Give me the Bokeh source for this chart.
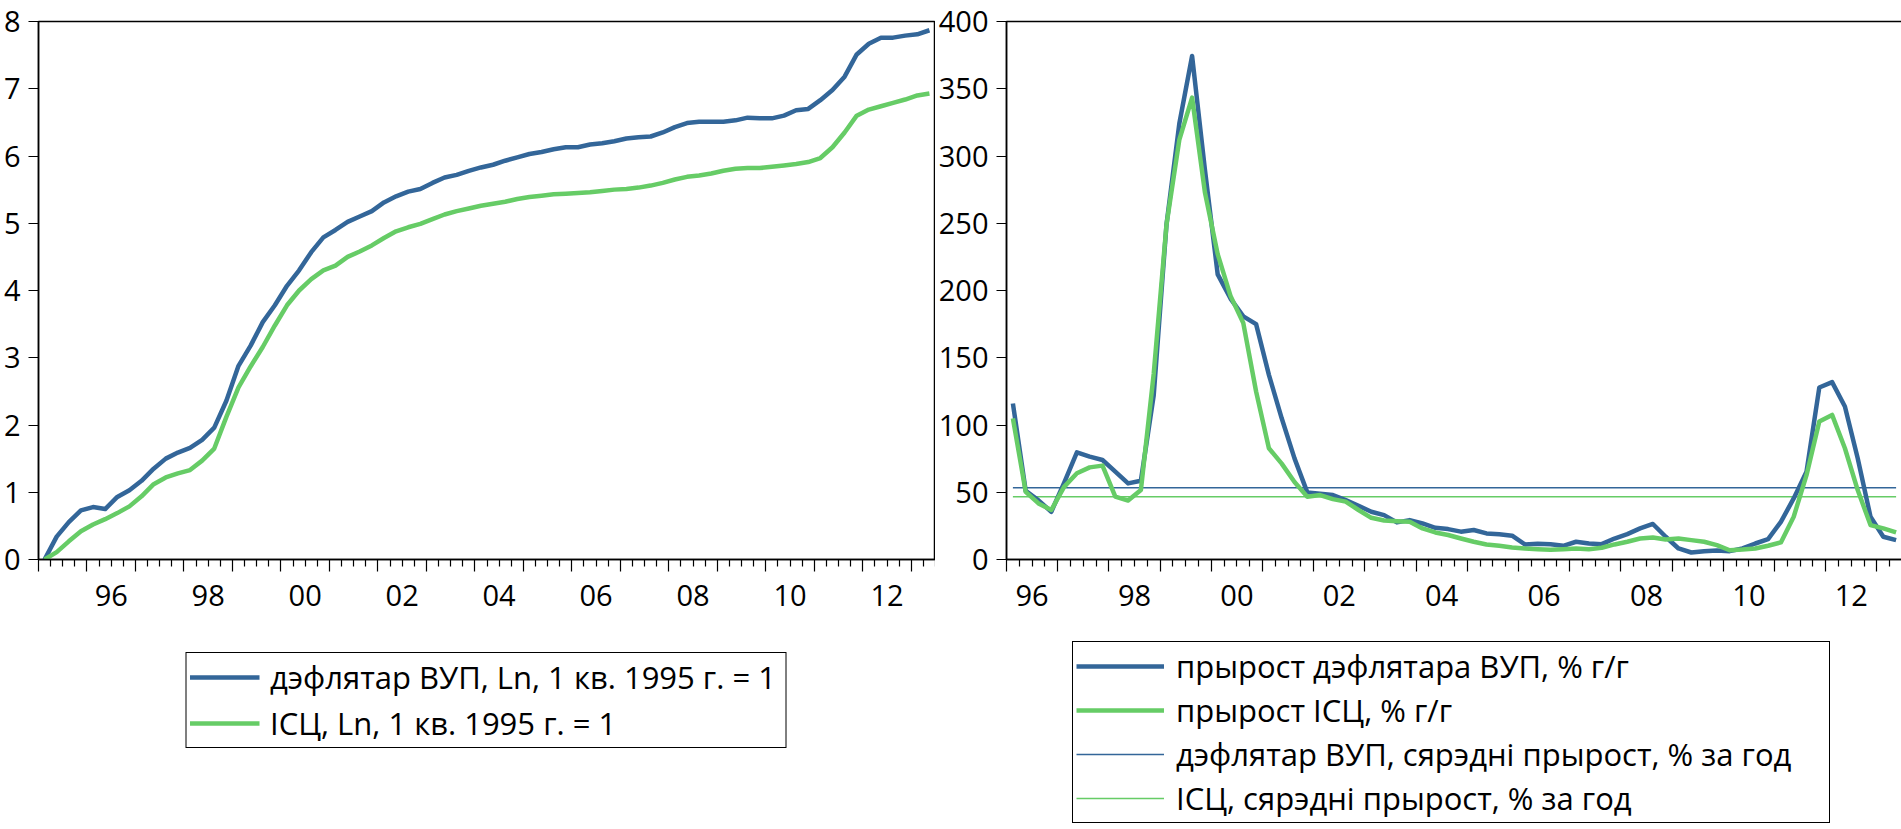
from bokeh.plotting import figure
from bokeh.models import Range1d, LinearAxis, FixedTicker, Legend, LegendItem, CustomLabelingPolicy
from bokeh.layouts import row, column
from bokeh.embed import file_html
from bokeh.resources import INLINE

FONT = "Open Sans"
BLUE = "#336699"
GREEN = "#66CC66"
TICK_FS = "29px"
LEG_FS = "31px"
FH = 538
LW = 4.5
CHART_BOTTOM = 60

# ---------------- data ----------------
left_start_year = 1995   # 1995Q1 .. 2013Q2
right_start_year = 1996  # 1996Q1 .. 2013Q2

ln_deflator = [0.00, 0.34, 0.555, 0.73, 0.78, 0.75, 0.93, 1.03, 1.17, 1.35, 1.50, 1.59, 1.66, 1.78,
               1.96, 2.36, 2.88, 3.18, 3.53, 3.78, 4.07,
               4.30, 4.57, 4.79, 4.90, 5.02, 5.10, 5.18, 5.31, 5.40, 5.47, 5.51, 5.60, 5.68, 5.72,
               5.78, 5.83, 5.87,
               5.93, 5.98, 6.03, 6.06, 6.10, 6.13, 6.13, 6.17, 6.19, 6.22, 6.26, 6.28, 6.29, 6.35,
               6.43, 6.49, 6.51, 6.51, 6.51, 6.53, 6.57, 6.56, 6.56, 6.60, 6.68, 6.70, 6.83, 6.98,
               7.18, 7.51, 7.67, 7.76, 7.76, 7.79, 7.81, 7.87]
ln_cpi = [0.00, 0.11, 0.27, 0.42, 0.52, 0.60, 0.69, 0.79, 0.94, 1.12, 1.22, 1.28, 1.33, 1.47,
          1.65, 2.12, 2.56, 2.87, 3.16, 3.48, 3.78,
          4.00, 4.17, 4.30, 4.37, 4.50, 4.58, 4.67, 4.78, 4.88, 4.94, 4.99, 5.06, 5.13, 5.18,
          5.22, 5.26, 5.29,
          5.32, 5.36, 5.39, 5.41, 5.43, 5.44, 5.45, 5.46, 5.48, 5.50, 5.51, 5.53, 5.56, 5.60,
          5.65, 5.69, 5.71, 5.74, 5.78, 5.81, 5.82, 5.82, 5.84, 5.86, 5.88, 5.91, 5.97, 6.13,
          6.35, 6.60, 6.69, 6.74, 6.79, 6.84, 6.90, 6.93]

growth_deflator = [116, 51, 44, 35.5, 57, 79.7, 76.5, 74, 65.3, 56.6, 58.6, 122, 249, 324, 374.4,
                   290, 212, 194, 180.8, 175, 137.3, 105, 75.2, 49.9, 48.9, 47.9, 44.2, 40, 35.5,
                   33, 27.6,
                   29.3, 26.8, 23.6, 22.6, 20.7, 21.9, 19.4, 18.7, 17.7, 11.2, 11.7, 11.4, 10.2,
                   13.2, 11.9, 11.4, 15.6, 18.9, 23.1, 26.4, 16.9, 8.2, 5.2, 6.2, 6.7, 6.2, 8.2,
                   11.9, 15.1, 28.0, 45.4, 65.2, 127.9, 131.9, 113.8, 75.3, 31.8, 16.9, 14.4]
growth_cpi = [105, 50.3, 41.7, 36.8, 54, 64.1, 68.5, 69.8, 46.7, 43.8, 51.6, 138, 249, 312, 343.4,
              273, 227, 196, 175.8, 124.9, 82.7, 71.3, 57.6, 46.7, 47.9, 44.9, 43, 36.8, 31,
              29, 28.5,
              28.0, 23.1, 20.1, 18.2, 15.6, 13.2, 11.2, 10.2, 9.0, 8.2, 7.7, 7.2, 7.7, 8.2, 7.7,
              8.7, 11.2, 13.2, 15.6, 16.4, 14.9, 15.6, 14.4, 13.2, 10.7, 6.9, 7.4, 8.2, 10.2,
              12.7, 31.8, 62.7, 102.6, 107.5, 82.7, 51.6, 25.6, 23.1, 20.1]
mean_growth_deflator = 53.4
mean_growth_cpi = 46.7

left_y_ticks = [0, 1, 2, 3, 4, 5, 6, 7, 8]
right_y_ticks = [0, 50, 100, 150, 200, 250, 300, 350, 400]
label_years = [1996, 1998, 2000, 2002, 2004, 2006, 2008, 2010, 2012]

labels_left = ["дэфлятар ВУП, Ln, 1 кв. 1995 г. = 1", "ІСЦ, Ln, 1 кв. 1995 г. = 1"]
labels_right = ["прырост дэфлятара ВУП, % г/г", "прырост ІСЦ, % г/г",
                "дэфлятар ВУП, сярэдні прырост, % за год", "ІСЦ, сярэдні прырост, % за год"]


def quarter_centers(start_year, n):
    # centre of each quarter, in years
    return [start_year + i / 4 + 0.125 for i in range(n)]


NO_LABELS = CustomLabelingPolicy(code="""
for (const i of indices)
    indices.unset(i)
return indices
""")


def make_fig(x0, x1, y1, yticks, fw, mbl, mbr):
    p = figure(frame_width=fw, frame_height=FH, x_range=Range1d(x0, x1), y_range=Range1d(0, y1),
               output_backend="svg", toolbar_location=None, tools="",
               x_axis_location=None, y_axis_location="left",
               min_border_left=mbl, min_border_right=mbr, min_border_top=21,
               min_border_bottom=CHART_BOTTOM,
               background_fill_color="white", border_fill_color="white")
    p.xgrid.visible = False
    p.ygrid.visible = False
    p.outline_line_color = "black"
    p.outline_line_width = 1.5
    p.outline_line_alpha = 1

    ya = p.yaxis[0]
    ya.ticker = FixedTicker(ticks=yticks, minor_ticks=[])
    ya.major_tick_out = 10
    ya.major_tick_in = 0
    ya.major_tick_line_width = 1.2
    ya.axis_line_width = 1.5
    ya.axis_line_color = "black"
    ya.major_label_text_font = FONT
    ya.major_label_text_font_size = TICK_FS
    ya.major_label_text_color = "black"
    ya.major_label_standoff = 8

    years = [y for y in range(int(x0), int(x1) + 1) if x0 <= y <= x1]
    minor = [y + k / 4 for y in range(int(x0), int(x1) + 1) for k in (1, 2, 3) if x0 < y + k / 4 <= x1]
    tick_axis = LinearAxis(ticker=FixedTicker(ticks=years, minor_ticks=minor),
                           major_label_overrides={y: "" for y in years},
                           major_label_policy=NO_LABELS,
                           major_label_text_font_size="0px", major_label_standoff=0,
                           major_tick_out=12, major_tick_in=0, minor_tick_out=7, minor_tick_in=0,
                           major_tick_line_width=1.2, minor_tick_line_width=1.2,
                           axis_line_width=1.5, axis_line_color="black")
    p.add_layout(tick_axis, "below")

    lab_pos = [y + 0.5 for y in label_years]
    label_axis = LinearAxis(ticker=FixedTicker(ticks=lab_pos, minor_ticks=[]),
                            major_label_overrides={y + 0.5: "%02d" % (y % 100) for y in label_years},
                            axis_line_color=None, major_tick_line_color=None,
                            minor_tick_line_color=None, major_tick_out=0, major_tick_in=0,
                            major_label_standoff=13, major_label_text_font=FONT,
                            major_label_text_font_size=TICK_FS, major_label_text_color="black")
    p.add_layout(label_axis, "below")
    return p


# ---------------- left chart ----------------
xl = quarter_centers(left_start_year, len(ln_deflator))
p1 = make_fig(1995, 2013.5, 8, left_y_ticks, 897, 37, 0)
p1.line(xl, ln_deflator, line_color=BLUE, line_width=LW, line_join="round")
p1.line(xl, ln_cpi, line_color=GREEN, line_width=LW, line_join="round")

# ---------------- right chart ----------------
xr = quarter_centers(right_start_year, len(growth_deflator))
mean_defl_line = [mean_growth_deflator] * len(xr)
mean_cpi_line = [mean_growth_cpi] * len(xr)
p2 = make_fig(1996, 2013.5, 400, right_y_ticks, 896, 69, 1)
p2.line(xr, mean_defl_line, line_color=BLUE, line_width=1.6)
p2.line(xr, mean_cpi_line, line_color=GREEN, line_width=1.6)
p2.line(xr, growth_deflator, line_color=BLUE, line_width=LW, line_join="round")
p2.line(xr, growth_cpi, line_color=GREEN, line_width=LW, line_join="round")


# ---------------- legends (own panels under each chart) ----------------
def legend_fig(fw, mbl, mbr, height, labels, series, spacing, margin, glyph_w, standoff, label_w):
    # the series are plotted again here, outside the visible range, so the
    # legend can draw their line samples; only the legend box is visible
    f = figure(frame_width=fw, height=height, output_backend="svg", toolbar_location=None, tools="",
               x_axis_location=None, y_axis_location=None, min_border_left=mbl,
               min_border_right=mbr, min_border_top=0, min_border_bottom=0,
               x_range=Range1d(-20, -10), y_range=Range1d(-20, -10))
    f.outline_line_color = None
    f.xgrid.visible = False
    f.ygrid.visible = False
    items = []
    for lab, (xs, ys, col, lw) in zip(labels, series):
        r = f.line(xs, ys, line_color=col, line_width=lw)
        items.append(LegendItem(label=lab, renderers=[r]))
    leg = Legend(items=items, location="top_center", orientation="vertical",
                 border_line_color="black", border_line_width=1.2, border_line_alpha=1,
                 background_fill_color="white", background_fill_alpha=1,
                 label_text_font=FONT, label_text_font_size=LEG_FS, label_text_color="black",
                 glyph_width=glyph_w, glyph_height=30, label_standoff=standoff,
                 label_width=label_w, spacing=spacing, padding=3, margin=margin)
    f.add_layout(leg, "center")
    return f


LEG_H = 829 - (21 + FH + CHART_BOTTOM)
l1 = legend_fig(897, 37, 0, LEG_H, labels_left,
                [(xl, ln_deflator, BLUE, LW), (xl, ln_cpi, GREEN, LW)],
                4, 33, 70, 11, 512)
l2 = legend_fig(896, 69, 1, LEG_H, labels_right,
                [(xr, growth_deflator, BLUE, LW), (xr, growth_cpi, GREEN, LW),
                 (xr, mean_defl_line, BLUE, 1.6), (xr, mean_cpi_line, GREEN, 1.6)],
                2, 22, 88, 12, 650)

layout = column(row(p1, p2), row(l1, l2))
open("out.html", "w").write(file_html(layout, INLINE))
